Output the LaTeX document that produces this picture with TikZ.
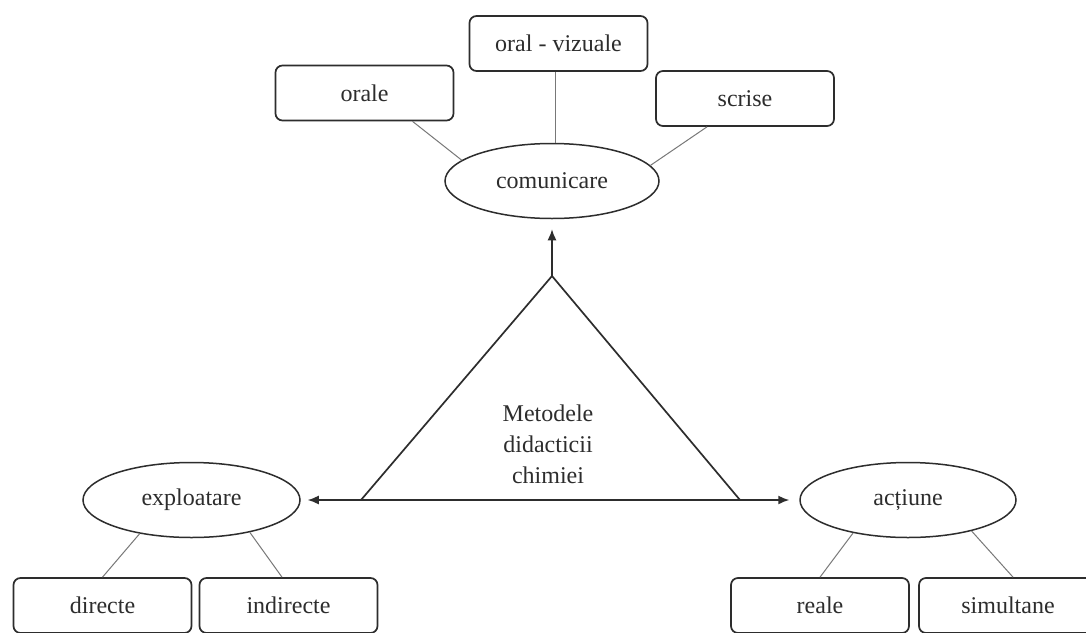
\documentclass[tikz,border=0pt]{standalone}
\usepackage{fontspec}
\setmainfont{Liberation Serif}
\usetikzlibrary{shapes.geometric,arrows.meta}
\definecolor{ink}{RGB}{45,45,45}
\definecolor{conn}{RGB}{120,120,120}
\tikzset{
  every node/.style={font=\fontsize{12}{15.5}\selectfont, text=ink},
  catbox/.style={draw=ink, line width=0.85pt, rounded corners=3.5pt, minimum width=89pt, minimum height=27.5pt, inner sep=0pt},
  catell/.style={draw=ink, line width=0.75pt, ellipse, minimum width=108pt, minimum height=37.5pt, inner sep=0pt},
  link/.style={draw=conn, line width=0.5pt},
  mainarrow/.style={draw=ink, line width=0.75pt, -{Latex[length=5.5pt,width=4.5pt]}},
  triline/.style={draw=ink, line width=0.85pt, line join=miter}
}
\begin{document}
\begin{tikzpicture}[x=0.5pt,y=-0.5pt]
\useasboundingbox[fill=white] (0,0) rectangle (1086,632);

% top group
\node[catbox] (orale) at (364.5,93) {orale};
\node[catbox] (oralviz) at (558.5,43.5) {oral - vizuale};
\node[catbox] (scrise) at (745,98.5) {scrise};
\node[catell, minimum width=107pt] (comunicare) at (552,181) {comunicare};

% triangle
\coordinate (apex) at (552,276);
\coordinate (bl) at (361,500);
\coordinate (br) at (740,500);
\draw[triline] (apex) -- (bl) -- (br) -- cycle;
\node[align=center] (title) at (548,444) {Metodele\\didacticii\\chimiei};

% bottom groups
\node[catell, minimum width=108.5pt] (exploatare) at (191.5,500) {exploatare};
\node[catell] (actiune) at (908,500) {acțiune};
\node[catbox] (directe) at (102.5,605.5) {directe};
\node[catbox] (indirecte) at (288.5,605.5) {indirecte};
\node[catbox] (reale) at (820,605.5) {reale};
\node[catbox] (simultane) at (1008,605.5) {simultane};

% connectors
\draw[link] ([xshift=24pt]orale.south) -- (comunicare.167);
\coordinate (vbot) at ([xshift=1.5pt]comunicare.north);
\draw[link] (vbot) -- (vbot |- oralviz.south);
\draw[link] ([xshift=-19pt]scrise.south) -- (comunicare.9);
\draw[link] (exploatare.-147) -- (directe.north);
\draw[link] (exploatare.-29) -- ([xshift=-3.25pt]indirecte.north);
\draw[link] (actiune.-149) -- (reale.north);
\draw[link] (actiune.-26) -- ([xshift=2.5pt]simultane.north);

% arrows
\draw[mainarrow, shorten >=5pt] (apex) -- (comunicare.south);
\draw[mainarrow, shorten >=3.5pt] (bl) -- (exploatare.east);
\draw[mainarrow, shorten >=5pt] (br) -- (actiune.west);
\end{tikzpicture}
\end{document}
